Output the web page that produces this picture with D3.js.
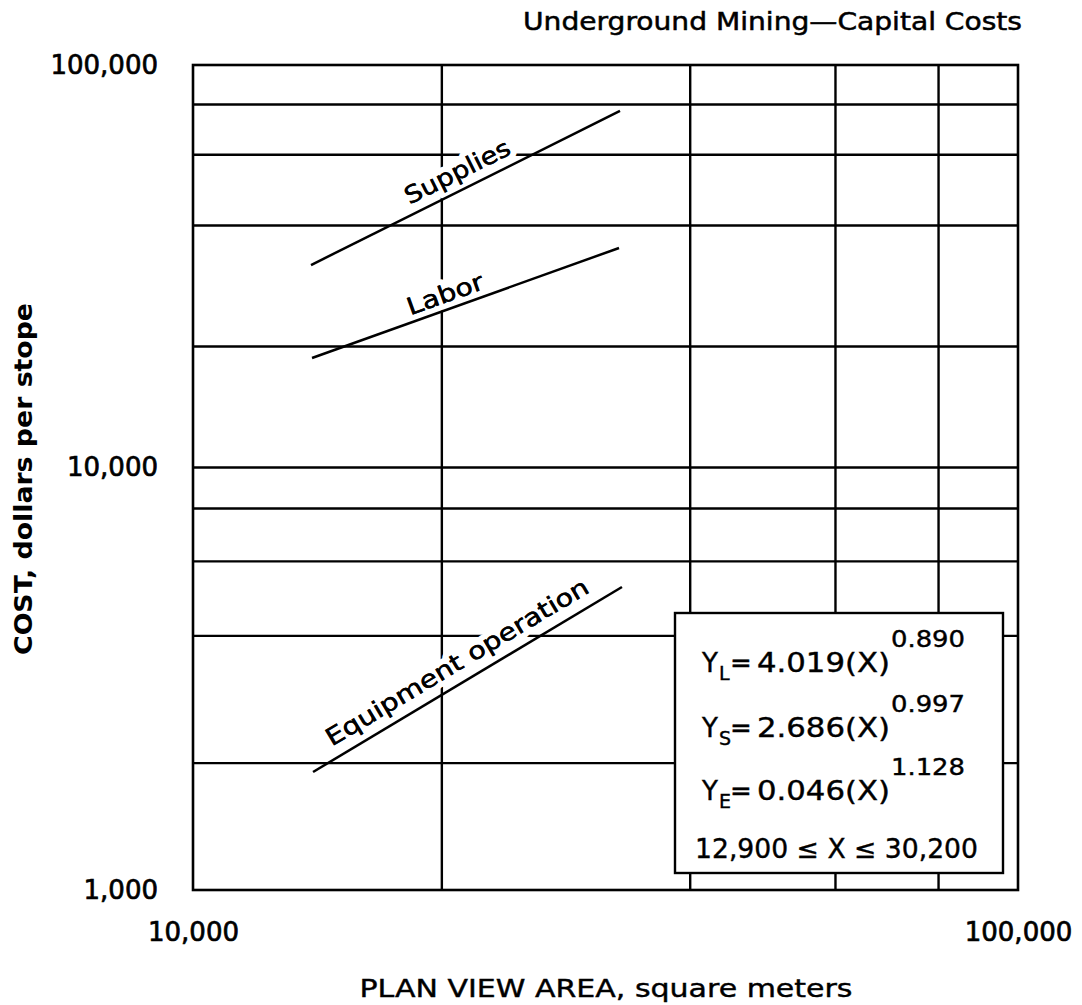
<!DOCTYPE html>
<html>
<head>
<meta charset="utf-8">
<script src="https://cdn.jsdelivr.net/npm/d3@7"></script>
<style>
  html, body { margin: 0; padding: 0; background: #fff; }
  svg { display: block; }
  text { font-family: "DejaVu Sans", sans-serif; fill: #000; }
</style>
</head>
<body>
<script>
// ---------- data ----------
const xGridValues = [20000, 40000, 60000, 80000];
const yGridValues = [2000, 4000, 6000, 8000, 10000, 20000, 40000, 60000, 80000];
const xTickLabels = [10000, 100000];
const yTickLabels = [1000, 10000, 100000];

const seriesNames = ["Supplies", "Labor", "Equipment operation"];
const areaStart = [13900, 13940, 13980];
const areaEnd   = [32930, 32840, 33110];
const costStart = [31800, 18670, 1901];
const costEnd   = [76850, 35060, 5204];

const eqSubscripts  = ["L", "S", "E"];
const eqCoefficients = ["4.019", "2.686", "0.046"];
const eqExponents   = ["0.890", "0.997", "1.128"];
const rangeText = "12,900 \u2264 X \u2264 30,200";

const titleText = "Underground Mining\u2014Capital Costs";
const xTitle = "PLAN VIEW AREA, square meters";
const yTitle = "COST, dollars per stope";

// ---------- layout ----------
const W = 1082, H = 1005;
const pLeft = 193, pRight = 1018, pTop = 65, pBottom = 890;

const svg = d3.select("body").append("svg").attr("width", W).attr("height", H);

const x = d3.scaleLog().domain([10000, 100000]).range([pLeft, pRight]);
const y = d3.scaleLog().domain([1000, 10000, 100000]).range([pBottom, 467, pTop]);

// gridlines via axes
const gx = svg.append("g").attr("transform", `translate(0,${pBottom})`)
  .call(d3.axisBottom(x).tickValues(xGridValues).tickSize(-(pBottom - pTop)).tickFormat(""));
gx.select(".domain").remove();
gx.selectAll("line").attr("stroke", "#000").attr("stroke-width", 2.4);

const gy = svg.append("g").attr("transform", `translate(${pLeft},0)`)
  .call(d3.axisLeft(y).tickValues(yGridValues).tickSize(-(pRight - pLeft)).tickFormat(""));
gy.select(".domain").remove();
gy.selectAll("line").attr("stroke", "#000").attr("stroke-width", 2.4);

// frame
svg.append("rect").attr("x", pLeft).attr("y", pTop)
  .attr("width", pRight - pLeft).attr("height", pBottom - pTop)
  .attr("fill", "none").attr("stroke", "#000").attr("stroke-width", 2.6);

// tick labels
const fmt = d3.format(",");
const ly = svg.append("g").attr("transform", `translate(${pLeft},0)`)
  .call(d3.axisLeft(y).tickValues(yTickLabels).tickSize(0).tickPadding(35).tickFormat(fmt));
ly.select(".domain").remove();
ly.selectAll("text").attr("font-size", 26).attr("font-family", "DejaVu Sans")
  .attr("stroke", "#000").attr("stroke-width", 0.7);

const lx = svg.append("g").attr("transform", `translate(0,${pBottom})`)
  .call(d3.axisBottom(x).tickValues(xTickLabels).tickSize(0).tickPadding(33).tickFormat(fmt));
lx.select(".domain").remove();
lx.selectAll("text").attr("font-size", 26).attr("font-family", "DejaVu Sans")
  .attr("stroke", "#000").attr("stroke-width", 0.7);

// titles
svg.append("text").attr("x", 523).attr("y", 30)
  .attr("font-size", 24).attr("textLength", 499).attr("lengthAdjust", "spacingAndGlyphs")
  .attr("stroke", "#000").attr("stroke-width", 0.5)
  .text(titleText);

svg.append("text").attr("x", 606).attr("y", 997).attr("text-anchor", "middle")
  .attr("font-size", 24).attr("textLength", 493).attr("lengthAdjust", "spacingAndGlyphs")
  .attr("stroke", "#000").attr("stroke-width", 0.4)
  .text(xTitle);

svg.append("text").attr("transform", "translate(32,479) rotate(-90)")
  .attr("text-anchor", "middle").attr("font-size", 24).attr("font-weight", "bold")
  .attr("textLength", 352).attr("lengthAdjust", "spacingAndGlyphs")
  .text(yTitle);

// series
const series = seriesNames.map((name, i) => ({
  name,
  pts: [[areaStart[i], costStart[i]], [areaEnd[i], costEnd[i]]]
}));
const labelLengths = [115, 80, 302];
const labelOffsets = [10, 7, 12];
const labelPos = [0.5, 0.45, 0.5];

const line = d3.line().x(d => x(d[0])).y(d => y(d[1]));

// labels (with white halo knocking out the grid)
series.forEach((s, i) => {
  const x0 = x(s.pts[0][0]), y0 = y(s.pts[0][1]);
  const x1 = x(s.pts[1][0]), y1 = y(s.pts[1][1]);
  const ang = Math.atan2(y1 - y0, x1 - x0);
  const t = labelPos[i];
  const cx = x0 + (x1 - x0) * t, cy = y0 + (y1 - y0) * t;
  const off = labelOffsets[i];
  const px = cx + Math.sin(ang) * off, py = cy - Math.cos(ang) * off;
  const tr = `translate(${px},${py}) rotate(${ang * 180 / Math.PI})`;
  svg.append("text")
    .attr("transform", tr)
    .attr("text-anchor", "middle").attr("font-size", 24)
    .attr("textLength", labelLengths[i]).attr("lengthAdjust", "spacingAndGlyphs")
    .attr("stroke", "#fff").attr("stroke-width", 12).attr("paint-order", "stroke")
    .attr("stroke-linejoin", "round")
    .text(s.name);
  svg.append("text")
    .attr("transform", tr)
    .attr("text-anchor", "middle").attr("font-size", 24)
    .attr("textLength", labelLengths[i]).attr("lengthAdjust", "spacingAndGlyphs")
    .attr("stroke", "#000").attr("stroke-width", 0.4)
    .text(s.name);
});

svg.append("g").selectAll("path").data(series).join("path")
  .attr("d", d => line(d.pts))
  .attr("fill", "none").attr("stroke", "#000").attr("stroke-width", 2.5);

// equation box
const box = svg.append("g");
box.append("rect").attr("x", 675).attr("y", 613).attr("width", 328).attr("height", 260)
  .attr("fill", "#fff").attr("stroke", "#000").attr("stroke-width", 2.4);

const rowBase = [672, 737, 800];
eqSubscripts.forEach((sub, i) => {
  const b = rowBase[i];
  const g = box.append("g").attr("stroke", "#000").attr("stroke-width", 0.4);
  g.append("text").attr("x", 702).attr("y", b).attr("font-size", 26).text("Y");
  g.append("text").attr("x", 719).attr("y", b + 8).attr("font-size", 19).text(sub);
  g.append("text").attr("x", 730).attr("y", b).attr("font-size", 26).text("=");
  g.append("text").attr("x", 757).attr("y", b).attr("font-size", 26)
    .attr("textLength", 133).attr("lengthAdjust", "spacingAndGlyphs")
    .text(eqCoefficients[i] + "(X)");
  g.append("text").attr("x", 891).attr("y", b - 25).attr("font-size", 23)
    .attr("textLength", 74).attr("lengthAdjust", "spacingAndGlyphs")
    .text(eqExponents[i]);
});
box.append("text").attr("x", 695).attr("y", 858).attr("font-size", 26)
  .attr("textLength", 283).attr("lengthAdjust", "spacingAndGlyphs")
  .attr("stroke", "#000").attr("stroke-width", 0.4)
  .text(rangeText);
</script>
</body>
</html>
